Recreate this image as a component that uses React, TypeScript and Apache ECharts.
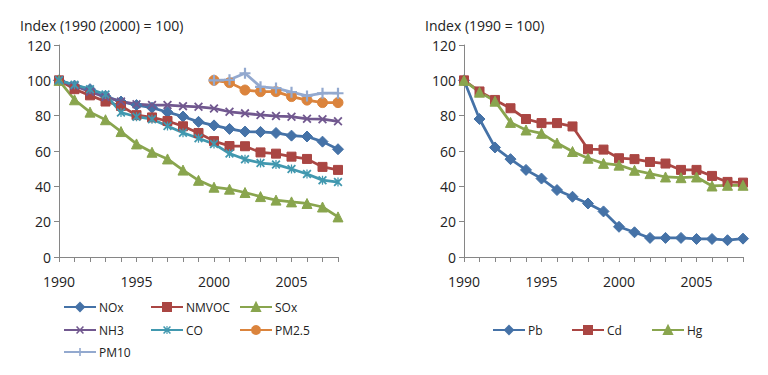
import React, { useEffect, useRef } from "react";
import * as echarts from "echarts";

const years = ["1990","1991","1992","1993","1994","1995","1996","1997","1998","1999","2000","2001","2002","2003","2004","2005","2006","2007","2008"];

const nox = [100, 97, 95, 91, 88, 86, 84.5, 82, 79.5, 76.5, 74.5, 72.5, 71, 70.8, 70.2, 68.7, 68.2, 65.3, 61];
const nmvoc = [100, 95, 91.5, 88, 85.5, 80.3, 79, 77, 74, 70.2, 65.6, 62.8, 62.7, 59.2, 58.5, 56.8, 55.5, 51, 49.3];
const sox = [100, 89, 82, 77.7, 71, 64, 59.3, 55.5, 49.2, 43.4, 39.5, 38.4, 36.5, 34.2, 32.2, 31.2, 30.3, 28.3, 22.7];
const nh3 = [100, 97, 93.5, 90.5, 88, 86.5, 86, 86, 85.4, 85, 84.1, 82.2, 81.3, 80.4, 79.8, 79.4, 78.2, 78, 76.8];
const co = [100, 97.5, 95, 92, 81.8, 79.4, 78, 74.2, 70.3, 67.2, 64, 58.6, 55.3, 53.2, 52.4, 49.8, 47, 43.5, 42.4];
const pm25 = [null, null, null, null, null, null, null, null, null, null, 100, 98.7, 94.5, 93.6, 93.6, 90.8, 88.8, 87.4, 87.4];
const pm10 = [null, null, null, null, null, null, null, null, null, null, 100, 100.3, 104, 96.3, 95.6, 93.3, 91.2, 92.7, 92.7];

const pb = [100, 78.1, 62, 55.4, 49.3, 44.4, 37.9, 34.1, 30.3, 25.8, 17.1, 14, 10.8, 10.8, 10.8, 10.2, 10.2, 9.5, 10.4];
const cd = [100, 93.7, 88.9, 84.2, 78.1, 75.8, 75.8, 73.9, 61, 60.8, 55.9, 55.4, 53.8, 52.9, 49.3, 49.3, 45.9, 42.5, 42.1];
const hg = [100, 93.3, 88.2, 76.2, 71.9, 70, 64.5, 59.7, 55.9, 53, 52, 49.1, 47.2, 45.3, 44.9, 45.3, 40.2, 40.6, 40.6];

const leftTitle = "Index (1990 (2000) = 100)";
const rightTitle = "Index (1990 = 100)";

const FONT = "'Open Sans', sans-serif";
const X_PATH = "path://M0,1.4L1.4,0L5,3.6L8.6,0L10,1.4L6.4,5L10,8.6L8.6,10L5,6.4L1.4,10L0,8.6L3.6,5Z";
const AST_PATH = "path://M0,1.4L1.4,0L5,3.6L8.6,0L10,1.4L6.4,5L10,8.6L8.6,10L5,6.4L1.4,10L0,8.6L3.6,5Z M4.3,0H5.7V10H4.3Z";
const PLUS_PATH = "path://M4,0H6V4H10V6H6V10H4V6H0V4H4Z";

export default function App() {
  const ref = useRef<HTMLDivElement>(null);
  useEffect(() => {
    if (!ref.current) return;
    const chart = echarts.init(ref.current, null, { renderer: "svg" });

    const xAxisBase = (gridIndex: number) => ({
      type: "category" as const,
      gridIndex,
      data: years,
      boundaryGap: false,
      axisLine: { lineStyle: { color: "#868686", width: 1 } },
      axisTick: { show: true, interval: 0, length: 5, lineStyle: { color: "#868686" } },
      axisLabel: { interval: 4, margin: 17, fontSize: 14, color: "#222", fontFamily: FONT },
      splitLine: { show: false },
    });
    const yAxisBase = (gridIndex: number) => ({
      type: "value" as const,
      gridIndex,
      min: 0,
      max: 120,
      interval: 20,
      axisLine: { show: true, lineStyle: { color: "#868686", width: 1 } },
      axisTick: { show: true, length: 5, lineStyle: { color: "#868686" } },
      axisLabel: { margin: 8, fontSize: 14, color: "#222", fontFamily: FONT },
      splitLine: { show: false },
    });

    const mk = (name: string, data: (number | null)[], color: string, symbol: string, size: number, axis: number) => ({
      name,
      type: "line" as const,
      data,
      xAxisIndex: axis,
      yAxisIndex: axis,
      symbol,
      symbolSize: size,
      showAllSymbol: true,
      connectNulls: false,
      lineStyle: { color, width: 2.75 },
      itemStyle: { color, borderColor: color, borderWidth: symbol.startsWith("path://") ? 0 : 1 },
      emphasis: { disabled: true },
    });

    const series = [
      mk("NOx", nox, "#4572A7", "diamond", 11, 0),
      mk("NMVOC", nmvoc, "#AA4643", "rect", 9, 0),
      mk("SOx", sox, "#89A54E", "triangle", 10, 0),
      mk("NH3", nh3, "#71588F", X_PATH, 9, 0),
      mk("CO", co, "#4198AF", AST_PATH, 9, 0),
      mk("PM2.5", pm25, "#DB843D", "circle", 10, 0),
      mk("PM10", pm10, "#93A9CF", PLUS_PATH, 11, 0),
      mk("Pb", pb, "#4572A7", "diamond", 11, 1),
      mk("Cd", cd, "#AA4643", "rect", 9, 1),
      mk("Hg", hg, "#89A54E", "triangle", 10, 1),
    ];

    const legendPos: [string, number, number][] = [
      ["NOx", 63, 308], ["NMVOC", 150, 308], ["SOx", 239, 308],
      ["NH3", 63, 331], ["CO", 150, 331], ["PM2.5", 239, 331],
      ["PM10", 63, 353],
      ["Pb", 492, 331], ["Cd", 571, 331], ["Hg", 651, 331],
    ];
    const legend = legendPos.map(([name, left, cy]) => ({
      data: [name],
      left,
      top: cy - 7,
      padding: 0,
      itemWidth: 32,
      itemHeight: 10,
      selectedMode: false,
      textStyle: { fontSize: 12, color: "#222", fontFamily: FONT, padding: [0, 0, 0, -2] },
    }));

    chart.setOption({
      animation: false,
      backgroundColor: "#fff",
      grid: [
        { left: 59, top: 45, width: 279, height: 212 },
        { left: 464, top: 45, width: 279, height: 212 },
      ],
      xAxis: [xAxisBase(0), xAxisBase(1)],
      yAxis: [yAxisBase(0), yAxisBase(1)],
      legend,
      graphic: [
        { type: "text", left: 20, top: 18, style: { text: leftTitle, fontSize: 14, lineHeight: 14, fill: "#222", fontFamily: FONT } },
        { type: "text", left: 425, top: 18, style: { text: rightTitle, fontSize: 14, lineHeight: 14, fill: "#222", fontFamily: FONT } },
      ],
      series,
    });
    return () => chart.dispose();
  }, []);
  return <div ref={ref} style={{ position: "fixed", left: 0, top: 0, width: 768, height: 375 }} />;
}
